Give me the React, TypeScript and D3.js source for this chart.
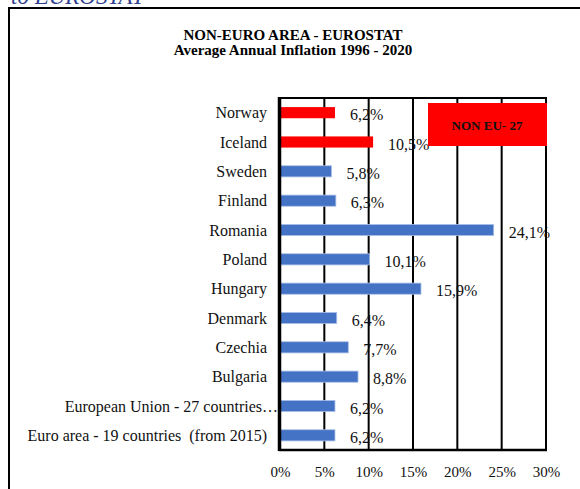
import React, { useEffect, useRef } from "react";
import * as d3 from "d3";

const countries = [
  "Norway",
  "Iceland",
  "Sweden",
  "Finland",
  "Romania",
  "Poland",
  "Hungary",
  "Denmark",
  "Czechia",
  "Bulgaria",
  "European Union - 27 countries\u2026",
  "Euro area - 19 countries  (from 2015)",
];
const inflation = [6.2, 10.5, 5.8, 6.3, 24.1, 10.1, 15.9, 6.4, 7.7, 8.8, 6.2, 6.2];
const nonEu = ["Norway", "Iceland"];
const xTicks = [0, 5, 10, 15, 20, 25, 30];

const App = () => {
  const ref = useRef<SVGSVGElement | null>(null);

  useEffect(() => {
    drawChart();
  }, []);

  const drawChart = () => {
    const width = 580,
      height = 489;
    const margin = { top: 98, right: 34, bottom: 39, left: 280 };
    const font = "'Liberation Serif', 'Times New Roman', serif";

    const svg = d3.select(ref.current);
    svg.selectAll("*").remove();

    // header text cut off at the top of the page
    svg
      .append("text")
      .attr("x", 11)
      .attr("y", 4)
      .attr("font-family", font)
      .attr("font-style", "italic")
      .attr("font-size", 23)
      .attr("fill", "#2e3f8f")
      .text("to EUROSTAT");

    // outer frame
    svg
      .append("rect")
      .attr("x", 9)
      .attr("y", 8)
      .attr("width", 600)
      .attr("height", 600)
      .attr("fill", "none")
      .attr("stroke", "#000")
      .attr("stroke-width", 2);

    svg
      .append("text")
      .attr("x", 293)
      .attr("y", 40)
      .attr("text-anchor", "middle")
      .attr("font-family", font)
      .attr("font-weight", "bold")
      .attr("font-size", 15)
      .text("NON-EURO AREA - EUROSTAT");
    svg
      .append("text")
      .attr("x", 293)
      .attr("y", 55)
      .attr("text-anchor", "middle")
      .attr("font-family", font)
      .attr("font-weight", "bold")
      .attr("font-size", 15)
      .text("Average Annual Inflation 1996 - 2020");

    const x = d3
      .scaleLinear()
      .domain([0, 30])
      .range([margin.left, width - margin.right]);

    const y = d3
      .scaleBand()
      .domain(countries)
      .range([margin.top, height - margin.bottom])
      .paddingInner(0.62)
      .paddingOuter(0.31);

    const bottom = height - margin.bottom;

    // grid lines
    svg
      .append("g")
      .selectAll("line")
      .data(xTicks.slice(1))
      .join("line")
      .attr("x1", (d) => x(d))
      .attr("x2", (d) => x(d))
      .attr("y1", margin.top)
      .attr("y2", bottom)
      .attr("stroke", "#000")
      .attr("stroke-width", 2);

    // top border of plot
    svg
      .append("line")
      .attr("x1", x(0))
      .attr("x2", x(30) + 1)
      .attr("y1", margin.top)
      .attr("y2", margin.top)
      .attr("stroke", "#000")
      .attr("stroke-width", 2);

    // bars
    svg
      .append("g")
      .selectAll("rect")
      .data(countries)
      .join("rect")
      .attr("x", x(0))
      .attr("y", (d) => y(d)!)
      .attr("width", (d, i) => x(inflation[i]) - x(0))
      .attr("height", y.bandwidth())
      .attr("fill", (d) => (nonEu.includes(d) ? "#ff0000" : "#4472c4"))
      .attr("stroke", (d) => (nonEu.includes(d) ? "none" : "#a9c0e8"))
      .attr("stroke-width", 0.8);

    // value labels
    svg
      .append("g")
      .selectAll("text")
      .data(countries)
      .join("text")
      .attr("x", (d, i) => x(inflation[i]) + 15)
      .attr("y", (d) => y(d)! + y.bandwidth() / 2 + 2)
      .attr("dy", "0.35em")
      .attr("font-family", font)
      .attr("font-size", 16)
      .attr("fill", "#111")
      .text((d, i) => d3.format(".1f")(inflation[i]).replace(".", ",") + "%");

    // category labels
    svg
      .append("g")
      .selectAll("text")
      .data(countries)
      .join("text")
      .attr("x", (d, i) => (i === 10 ? x(0) - 2 : x(0) - 13))
      .attr("y", (d) => y(d)! + y.bandwidth() / 2)
      .attr("dy", "0.35em")
      .attr("text-anchor", "end")
      .attr("font-family", font)
      .attr("font-size", 16)
      .attr("fill", "#111")
      .style("white-space", "pre")
      .text((d) => d);

    // axes
    svg
      .append("line")
      .attr("x1", x(0) - 1)
      .attr("x2", x(30) + 1)
      .attr("y1", bottom)
      .attr("y2", bottom)
      .attr("stroke", "#000")
      .attr("stroke-width", 2.5);
    svg
      .append("line")
      .attr("x1", x(0) - 0.5)
      .attr("x2", x(0) - 0.5)
      .attr("y1", margin.top - 1)
      .attr("y2", bottom + 1)
      .attr("stroke", "#000")
      .attr("stroke-width", 3.5);

    svg
      .append("g")
      .attr("transform", `translate(0,${bottom + 13})`)
      .call(
        d3
          .axisBottom(x)
          .tickValues(xTicks)
          .tickSize(0)
          .tickFormat((d) => d + "%")
      )
      .call((g) => g.select(".domain").remove())
      .call((g) =>
        g
          .selectAll("text")
          .attr("font-family", font)
          .attr("font-size", 15)
          .attr("fill", "#111")
      );

    // NON EU legend box
    svg
      .append("rect")
      .attr("x", 428)
      .attr("y", 103)
      .attr("width", 119)
      .attr("height", 43)
      .attr("fill", "#ff0000");
    svg
      .append("text")
      .attr("x", 487)
      .attr("y", 125)
      .attr("dy", "0.35em")
      .attr("text-anchor", "middle")
      .attr("font-family", font)
      .attr("font-weight", "bold")
      .attr("font-size", 13)
      .attr("fill", "#111")
      .text("NON EU- 27");
  };

  return (
    <svg
      ref={ref}
      width={580}
      height={489}
      style={{ position: "absolute", left: 0, top: 0, background: "#fff" }}
    ></svg>
  );
};

export default App;
